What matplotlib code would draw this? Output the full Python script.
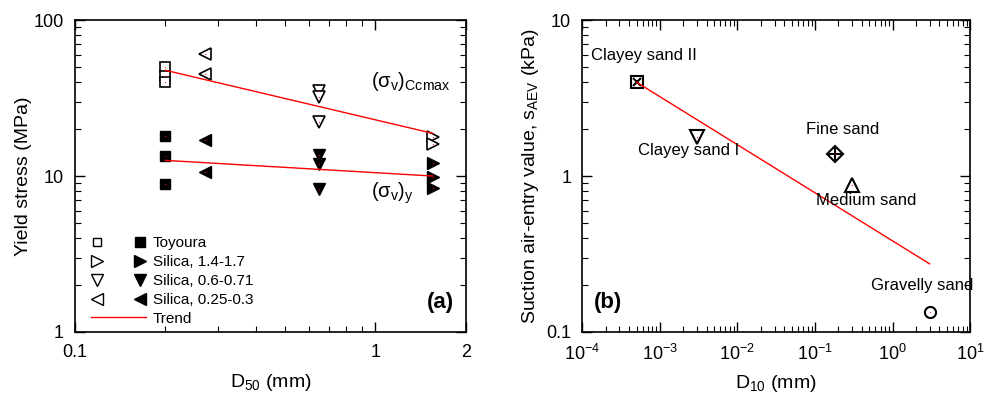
import matplotlib
matplotlib.use("Agg")
import matplotlib.pyplot as plt
from matplotlib.legend_handler import HandlerTuple
from matplotlib.lines import Line2D

plt.rcParams['font.family'] = ['Liberation Sans', 'DejaVu Sans']
plt.rcParams['mathtext.default'] = 'regular'

# ---------------- panel (a) data ----------------
toyoura_d50 = [0.2, 0.2, 0.2]
toyoura_cc = [50, 44, 40]
toyoura_y = [18.0, 13.4, 8.9]

s14_d50 = [1.55, 1.55, 1.55]
s14_cc = [17.9, 16.0]
s14_y = [12.2, 9.9, 8.4]

s06_d50 = [0.65, 0.65, 0.65]
s06_cc = [35, 32.3, 22.3]
s06_y = [13.7, 11.9, 8.2]

s025_d50 = [0.27, 0.27]
s025_cc = [61, 45.4]
s025_y = [17, 10.6]

trend_d50 = [0.2, 1.55]
trend_cc = [47.7, 18.8]
trend_y = [12.6, 10.0]

# ---------------- panel (b) data ----------------
soils = ["Clayey sand II", "Clayey sand I", "Fine sand", "Medium sand", "Gravelly sand"]
d10 = [5e-4, 3e-3, 0.18, 0.3, 3.0]
s_aev = [4.0, 1.77, 1.38, 0.875, 0.135]
trend_d10 = [5e-4, 3.0]
trend_aev = [4.0, 0.273]

fig = plt.figure(figsize=(9.87, 3.96), dpi=100)
ax1 = fig.add_axes([0.076, 0.162, 0.396, 0.787])
ax2 = fig.add_axes([0.590, 0.162, 0.393, 0.787])

ms_sq = 7
ms_tri = 9

def dots(ax, x, y):
    ax.plot(x, y, linestyle='none', marker='o', ms=0.7, mew=0, color='red', zorder=5)

# open / filled markers
ax1.plot(toyoura_d50, toyoura_cc, 's', ms=ms_sq, mfc='white', mec='black', mew=1.2)
ax1.plot(toyoura_d50, toyoura_y, 's', ms=ms_sq, color='black')
ax1.plot(s14_d50[:2], s14_cc, '>', ms=ms_tri, mfc='white', mec='black', mew=1.2)
ax1.plot(s14_d50, s14_y, '>', ms=ms_tri, color='black')
ax1.plot(s06_d50, s06_cc, 'v', ms=ms_tri, mfc='white', mec='black', mew=1.2)
ax1.plot(s06_d50, s06_y, 'v', ms=ms_tri, color='black')
ax1.plot(s025_d50, s025_cc, '<', ms=ms_tri, mfc='white', mec='black', mew=1.2)
ax1.plot(s025_d50, s025_y, '<', ms=ms_tri, color='black')
for xs, ys in [(toyoura_d50, toyoura_cc), (toyoura_d50, toyoura_y), (s14_d50[:2], s14_cc),
               (s14_d50, s14_y), (s06_d50, s06_cc), (s06_d50, s06_y),
               (s025_d50, s025_cc), (s025_d50, s025_y)]:
    dots(ax1, xs, ys)

ax1.plot(trend_d50, trend_cc, color='red', lw=1.0)
ax1.plot(trend_d50, trend_y, color='red', lw=1.0)

ax1.text(0.97, 40.5, r'$(\sigma_{v})_{Ccmax}$', fontsize=14.5, va='center', ha='left')
ax1.text(0.97, 7.8, r'$(\sigma_{v})_{y}$', fontsize=14.5, va='center', ha='left')
ax1.text(0.97, 0.06, '(a)', transform=ax1.transAxes, fontsize=16, fontweight='bold',
         ha='right', va='bottom')

ax1.set_xscale('log')
ax1.set_yscale('log')
ax1.set_xlim(0.1, 2)
ax1.set_ylim(1, 100)
ax1.set_xticks([0.1, 1, 2])
ax1.set_xticklabels(['0.1', '1', '2'])
ax1.set_yticks([1, 10, 100])
ax1.set_yticklabels(['1', '10', '100'])
ax1.set_xlabel('D$_{50}$ (mm)', fontsize=14, labelpad=8)
ax1.set_ylabel('Yield stress (MPa)', fontsize=14, labelpad=1)

def lh(m, filled, ms):
    if filled:
        return Line2D([], [], ls='none', marker=m, ms=ms, color='black')
    return Line2D([], [], ls='none', marker=m, ms=ms, mfc='white', mec='black', mew=1.0)

handles = [
    (lh('s', False, 6), lh('s', True, 7)),
    (lh('>', False, 8), lh('>', True, 9)),
    (lh('v', False, 8), lh('v', True, 9)),
    (lh('<', False, 8), lh('<', True, 9)),
    Line2D([], [], color='red', lw=1.0),
]
labels = ['Toyoura', 'Silica, 1.4-1.7', 'Silica, 0.6-0.71', 'Silica, 0.25-0.3', 'Trend']
ax1.legend(handles, labels, handler_map={tuple: HandlerTuple(ndivide=None, pad=2.0)},
           loc='lower left', bbox_to_anchor=(0.025, 0.0), frameon=False, fontsize=11,
           handlelength=3.6, handletextpad=0.45, labelspacing=0.32, borderaxespad=0.0)

# ---------------- panel (b) ----------------
ax2.plot(d10[0], s_aev[0], 's', ms=8, mfc='white', mec='black', mew=1.5)
ax2.plot(d10[0], s_aev[0], 'x', ms=6, color='black', mew=1.5)
ax2.plot(d10[1], s_aev[1], 'v', ms=10, mfc='white', mec='black', mew=1.5)
ax2.plot(d10[2], s_aev[2], 'D', ms=8, mfc='white', mec='black', mew=1.5)
ax2.plot(d10[2], s_aev[2], '+', ms=10, color='black', mew=1.5)
ax2.plot(d10[3], s_aev[3], '^', ms=10, mfc='white', mec='black', mew=1.5)
ax2.plot(d10[4], s_aev[4], 'o', ms=8, mfc='white', mec='black', mew=1.5)
dots(ax2, d10, s_aev)
ax2.plot(trend_d10, trend_aev, color='red', lw=1.0)

label_x = [6.3e-4, 2.35e-3, 0.225, 0.45, 2.43]
label_y = [5.97, 1.45, 2.0, 0.70, 0.197]
for name, lx, ly in zip(soils, label_x, label_y):
    ax2.text(lx, ly, name, fontsize=12, ha='center', va='center', clip_on=False)
ax2.text(0.03, 0.06, '(b)', transform=ax2.transAxes, fontsize=16, fontweight='bold',
         ha='left', va='bottom')

ax2.set_xscale('log')
ax2.set_yscale('log')
ax2.set_xlim(1e-4, 10)
ax2.set_ylim(0.1, 10)
ax2.set_yticks([0.1, 1, 10])
ax2.set_yticklabels(['0.1', '1', '10'])
ax2.set_xlabel('D$_{10}$ (mm)', fontsize=14, labelpad=6)
ax2.set_ylabel('Suction air-entry value, s$_{AEV}$ (kPa)', fontsize=14, labelpad=4)

for ax in (ax1, ax2):
    ax.tick_params(which='both', direction='in', top=True, right=True, labelsize=13)
    ax.tick_params(axis='x', which='major', pad=9)
    ax.tick_params(axis='y', which='major', pad=8)
    ax.tick_params(which='major', length=7, width=1.0)
    ax.tick_params(which='minor', length=4, width=0.8)
    for sp in ax.spines.values():
        sp.set_linewidth(1.2)

fig.savefig("out.png", dpi=100)
